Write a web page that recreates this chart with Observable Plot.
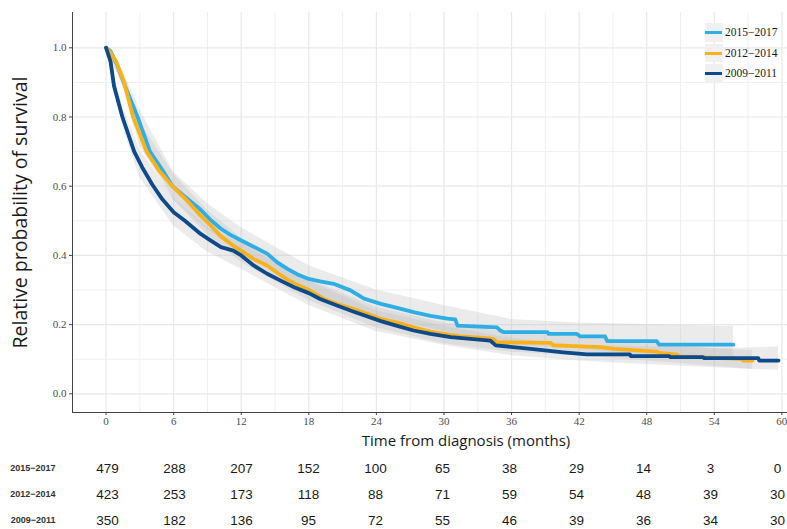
<!DOCTYPE html>
<html>
<head>
<meta charset="utf-8">
<script src="https://cdn.jsdelivr.net/npm/d3@7"></script>
<script src="https://cdn.jsdelivr.net/npm/@observablehq/plot@0.6"></script>
<style>
  body { margin: 0; background: #fff; }
  #wrap { position: relative; width: 787px; }
  #legend { position: absolute; left: 705px; top: 22px; font-family: "Liberation Serif", "Times New Roman", serif; font-size: 11.5px; color: #1a1a1a; }
  .item { display: flex; align-items: center; height: 20.5px; }
  .key { width: 18px; height: 18.5px; background: #f0f0f0; position: relative; margin-right: 2px; }
  .key span { position: absolute; left: 0; right: 1px; top: 8px; height: 3px; }
</style>
</head>
<body>
<div id="wrap"><div id="chart"></div><div id="table"></div><div id="legend"></div></div>
<script>
// ---- data ----
const groups = ["2015\u22122017", "2012\u22122014", "2009\u22122011"];
const colors = ["#2eaee4", "#fbb21a", "#0c4a8a"];

// survival curves (time in months, relative survival)
const t1517 = [0, 0.4, 1.0, 1.8, 2.8, 3.9, 4.9, 5.9, 7.0, 8.4, 9.2, 10.2, 11.0, 12.0, 13.1, 14.3, 15.2, 16.1, 17.0, 18.0, 19.0, 20.2, 21.7, 22.9, 24.4, 26.1, 27.3, 28.8, 30.3, 31.0, 31.2, 34.7, 35.0, 35.3, 39.2, 39.3, 41.8, 42.1, 44.3, 44.5, 48.9, 49.1, 55.7];
const s1517 = [1.0, 0.99, 0.95, 0.88, 0.80, 0.70, 0.652, 0.60, 0.57, 0.532, 0.505, 0.477, 0.46, 0.443, 0.425, 0.405, 0.38, 0.361, 0.345, 0.332, 0.325, 0.318, 0.299, 0.275, 0.26, 0.246, 0.236, 0.225, 0.217, 0.215, 0.197, 0.192, 0.183, 0.178, 0.178, 0.173, 0.173, 0.166, 0.166, 0.152, 0.152, 0.142, 0.142];

const t1214 = [0, 0.3, 0.9, 1.6, 2.4, 3.0, 3.6, 4.7, 5.9, 7.0, 8.4, 9.2, 10.2, 11.2, 12.0, 13.1, 14.3, 15.2, 16.1, 17.0, 18.0, 19.3, 20.5, 22.0, 23.3, 24.4, 26.0, 27.3, 28.8, 30.3, 31.5, 33.2, 34.4, 34.7, 39.5, 39.7, 43.9, 45.1, 48.9, 49.1, 50.7, 50.9, 56.3, 56.6, 57.4];
const s1214 = [1.0, 0.99, 0.96, 0.90, 0.80, 0.75, 0.70, 0.645, 0.60, 0.565, 0.515, 0.49, 0.455, 0.43, 0.414, 0.39, 0.371, 0.35, 0.33, 0.315, 0.30, 0.275, 0.26, 0.245, 0.23, 0.217, 0.205, 0.192, 0.18, 0.172, 0.166, 0.162, 0.159, 0.149, 0.147, 0.14, 0.135, 0.13, 0.122, 0.118, 0.113, 0.108, 0.101, 0.096, 0.096];

const t0911 = [0, 0.1, 0.4, 0.7, 1.45, 2.5, 3.2, 4.1, 5.0, 6.0, 7.0, 8.4, 9.2, 10.2, 11.3, 12.0, 13.1, 14.3, 15.5, 16.7, 18.0, 19.0, 20.5, 22.0, 24.4, 26.0, 27.3, 28.8, 30.6, 34.1, 34.6, 37.7, 40.6, 42.7, 46.5, 46.6, 50.0, 50.1, 53.0, 53.1, 57.9, 58.0, 59.7];
const s0911 = [1.0, 0.99, 0.96, 0.89, 0.80, 0.70, 0.655, 0.605, 0.562, 0.525, 0.50, 0.462, 0.445, 0.424, 0.414, 0.40, 0.371, 0.347, 0.327, 0.308, 0.291, 0.274, 0.255, 0.237, 0.21, 0.195, 0.183, 0.173, 0.164, 0.154, 0.14, 0.13, 0.12, 0.114, 0.114, 0.109, 0.109, 0.106, 0.106, 0.103, 0.103, 0.096, 0.096];

// confidence bands
const bt1517 = [0, 1.5, 3, 6, 9, 12, 18, 24, 30, 36, 42, 48, 54, 55.7];
const lo1517 = [1, 0.89, 0.745, 0.56, 0.475, 0.405, 0.295, 0.225, 0.18, 0.14, 0.13, 0.11, 0.10, 0.10];
const hi1517 = [1, 0.935, 0.82, 0.64, 0.55, 0.48, 0.37, 0.30, 0.255, 0.215, 0.205, 0.20, 0.195, 0.195];

const bt1214 = [0, 1.5, 3, 6, 9, 12, 18, 24, 30, 36, 42, 48, 54, 57.4];
const lo1214 = [1, 0.89, 0.715, 0.56, 0.46, 0.38, 0.27, 0.19, 0.145, 0.12, 0.11, 0.095, 0.08, 0.07];
const hi1214 = [1, 0.93, 0.785, 0.635, 0.53, 0.45, 0.33, 0.25, 0.205, 0.175, 0.165, 0.15, 0.13, 0.125];

const bt0911 = [0, 1.5, 3, 6, 9, 12, 18, 24, 30, 36, 42, 48, 54, 59.7];
const lo0911 = [1, 0.77, 0.625, 0.485, 0.41, 0.36, 0.255, 0.18, 0.14, 0.11, 0.095, 0.085, 0.075, 0.068];
const hi0911 = [1, 0.825, 0.705, 0.565, 0.48, 0.435, 0.325, 0.24, 0.195, 0.16, 0.14, 0.135, 0.13, 0.135];

// number at risk
const riskTimes = [0, 6, 12, 18, 24, 30, 36, 42, 48, 54, 60];
const risk1517 = [479, 288, 207, 152, 100, 65, 38, 29, 14, 3, 0];
const risk1214 = [423, 253, 173, 118, 88, 71, 59, 54, 48, 39, 30];
const risk0911 = [350, 182, 136, 95, 72, 55, 46, 39, 36, 34, 30];

// ticks and labels
const xTicks = [0, 6, 12, 18, 24, 30, 36, 42, 48, 54, 60];
const xMinor = [3, 9, 15, 21, 27, 33, 39, 45, 51, 57];
const yTicks = [0, 0.2, 0.4, 0.6, 0.8, 1.0];
const yMinor = [0.1, 0.3, 0.5, 0.7, 0.9];
const xTitle = "Time from diagnosis (months)";
const yTitle = "Relative probability of survival";

// ---- build tables ----
const curves = [[t1517, s1517], [t1214, s1214], [t0911, s0911]];
const bands = [[bt1517, lo1517, hi1517], [bt1214, lo1214, hi1214], [bt0911, lo0911, hi0911]];
const risks = [risk1517, risk1214, risk0911];

const lineRows = curves.flatMap(([ts, ss], g) => ts.map((t, i) => ({group: groups[g], t, s: ss[i]})));
const bandRows = bands.flatMap(([ts, lo, hi], g) => ts.map((t, i) => ({group: groups[g], t, lo: lo[i], hi: hi[i]})));
const riskRows = risks.flatMap((r, g) => riskTimes.map((t, i) => ({group: groups[g], t, n: r[i]})));

const xDomain = [-2.98, 60.5];
const yDomain = [-0.054, 1.102];
const serif = "'Liberation Serif', 'Times New Roman', serif";
const sans = "'Open Sans', 'Noto Sans', sans-serif";
const narrow = "'Liberation Sans Narrow', 'Arial Narrow', 'Liberation Sans', Arial, sans-serif";

const chart = Plot.plot({
  width: 787, height: 452,
  marginLeft: 72, marginRight: 0, marginTop: 12, marginBottom: 40,
  style: {background: "#fff", overflow: "visible"},
  x: {domain: xDomain},
  y: {domain: yDomain},
  color: {domain: groups, range: colors},
  marks: [
    Plot.gridX(xMinor, {stroke: "#efefef", strokeOpacity: 1, strokeWidth: 1}),
    Plot.gridX(xTicks, {stroke: "#e8e8e8", strokeOpacity: 1, strokeWidth: 1.2}),
    Plot.gridY(yMinor, {stroke: "#efefef", strokeOpacity: 1, strokeWidth: 1}),
    Plot.gridY(yTicks, {stroke: "#e8e8e8", strokeOpacity: 1, strokeWidth: 1.2}),
    Plot.areaY(bandRows, {x: "t", y1: "lo", y2: "hi", z: "group", fill: "#bdbdbd", fillOpacity: 0.3}),
    Plot.line(lineRows, {x: "t", y: "s", z: "group", stroke: "group", strokeWidth: 3.8, strokeLinejoin: "round"}),
    Plot.ruleX([xDomain[0]], {stroke: "#444", strokeWidth: 1}),
    Plot.ruleY([yDomain[0]], {stroke: "#444", strokeWidth: 1}),
    Plot.axisX(xTicks, {tickSize: 3, tickPadding: 2, stroke: "#444", fill: "#4d4d4d", fontFamily: serif, fontSize: 11, label: null}),
    Plot.axisY(yTicks, {tickSize: 3, tickPadding: 3, stroke: "#444", fill: "#4d4d4d", fontFamily: serif, fontSize: 11, tickFormat: d3.format(".1f"), label: null}),
    Plot.text([yTitle], {frameAnchor: "left", textAnchor: "middle", lineAnchor: "middle", rotate: -90, dx: -52, fontSize: 19.5, fontFamily: sans, fill: "#1a1a1a"}),
    Plot.text([xTitle], {frameAnchor: "bottom", textAnchor: "middle", lineAnchor: "middle", dx: 36, dy: 29, fontSize: 15, fontFamily: sans, fill: "#1a1a1a"})
  ]
});
document.getElementById("chart").appendChild(chart);

const table = Plot.plot({
  width: 787, height: 77,
  marginLeft: 107, marginRight: 10, marginTop: 16, marginBottom: 9,
  style: {background: "#fff", overflow: "visible"},
  x: {domain: [0, 60], axis: null},
  y: {type: "point", domain: groups, padding: 0},
  marks: [
    Plot.axisY({tickSize: 0, tickPadding: 52, fontFamily: narrow, fontSize: 9, fontWeight: "bold", fill: "#333", label: null}),
    Plot.text(riskRows, {x: "t", y: "group", text: "n", fontFamily: narrow, fontSize: 13.5, fill: "#1a1a1a"})
  ]
});
document.getElementById("table").appendChild(table);

// legend
const legend = document.getElementById("legend");
groups.forEach((g, i) => {
  const item = document.createElement("div");
  item.className = "item";
  const key = document.createElement("div");
  key.className = "key";
  const line = document.createElement("span");
  line.style.background = colors[i];
  key.appendChild(line);
  const label = document.createElement("div");
  label.textContent = g;
  item.appendChild(key);
  item.appendChild(label);
  legend.appendChild(item);
});
</script>
</body>
</html>
